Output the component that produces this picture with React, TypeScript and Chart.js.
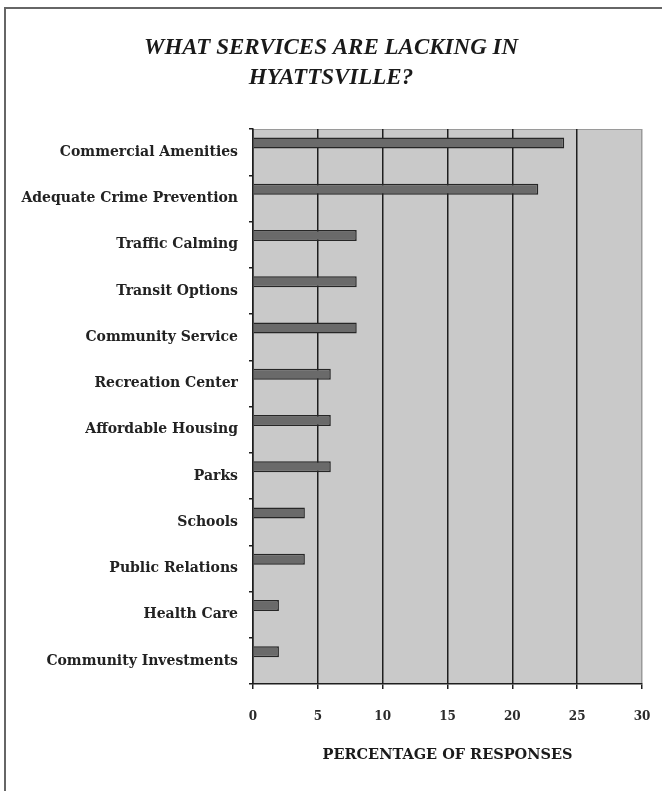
import React, { useEffect, useRef } from 'react';
import { Chart, registerables } from 'chart.js';

Chart.register(...registerables);

const TITLE_LINES = ['WHAT SERVICES ARE LACKING IN', 'HYATTSVILLE?'];
const CATEGORIES = [
  'Commercial Amenities',
  'Adequate Crime Prevention',
  'Traffic Calming',
  'Transit Options',
  'Community Service',
  'Recreation Center',
  'Affordable Housing',
  'Parks',
  'Schools',
  'Public Relations',
  'Health Care',
  'Community Investments',
];
const RESPONSES = [24, 22, 8, 8, 8, 6, 6, 6, 4, 4, 2, 2];
// Excel-style empty second series (reserves the lower half of each band)
const EMPTY_SERIES: (number | null)[] = [null, null, null, null, null, null, null, null, null, null, null, null];
const X_MIN = 0;
const X_MAX = 30;
const X_STEP = 5;
const X_TITLE = 'PERCENTAGE OF RESPONSES';

const plotBackground = {
  id: 'plotBackground',
  beforeDraw(chart: any) {
    const { ctx, chartArea } = chart;
    const { left, top, right, bottom } = chartArea;
    ctx.save();
    ctx.fillStyle = '#c9c9c9';
    ctx.fillRect(left, top, right - left, bottom - top);
    ctx.strokeStyle = '#9a9a9a';
    ctx.lineWidth = 1;
    ctx.beginPath();
    ctx.moveTo(left, top + 0.5);
    ctx.lineTo(right - 0.5, top + 0.5);
    ctx.lineTo(right - 0.5, bottom);
    ctx.stroke();
    ctx.restore();
  },
};

export default function App() {
  const canvasRef = useRef<HTMLCanvasElement | null>(null);

  useEffect(() => {
    if (!canvasRef.current) return;
    const barStyle = {
      backgroundColor: '#6a6a6a',
      borderColor: '#262626',
      borderWidth: 1.5,
      categoryPercentage: 0.79,
      barPercentage: 0.6,
    };
    const chart = new Chart(canvasRef.current, {
      type: 'bar',
      data: {
        labels: CATEGORIES,
        datasets: [
          { data: RESPONSES, ...barStyle },
          { data: EMPTY_SERIES, ...barStyle },
        ],
      },
      plugins: [plotBackground],
      options: {
        indexAxis: 'y',
        animation: false,
        responsive: false,
        devicePixelRatio: 1,
        layout: { padding: { left: 20, right: 20, top: 0, bottom: 0 } },
        plugins: {
          legend: { display: false },
          tooltip: { enabled: false },
          title: {
            display: true,
            text: TITLE_LINES,
            color: '#1a1a1a',
            font: {
              family: '"Liberation Serif", "Times New Roman", serif',
              size: 23,
              style: 'italic',
              weight: 'bold',
              lineHeight: 30 / 23,
            },
            padding: { top: 33, bottom: 36 },
          },
        },
        scales: {
          x: {
            min: X_MIN,
            max: X_MAX,
            ticks: {
              stepSize: X_STEP,
              color: '#2a2a2a',
              padding: 21,
              font: { family: '"DejaVu Serif", serif', size: 12, weight: 'bold' },
            },
            grid: {
              color: (ctx: any) => (ctx.tick && ctx.tick.value === X_MAX ? '#9a9a9a' : '#1e1e1e'),
              lineWidth: 1.5,
              drawTicks: true,
              tickLength: 5,
              tickColor: '#1e1e1e',
            },
            border: { display: true, color: '#1e1e1e', width: 1.5 },
            title: {
              display: true,
              text: X_TITLE,
              color: '#1a1a1a',
              font: { family: '"DejaVu Serif", serif', size: 14.5, weight: 'bold' },
              padding: { top: 27, bottom: 27 },
            },
            afterFit: (scale: any) => {
              scale.height = 107;
              scale.paddingLeft = 0;
              scale.paddingRight = 0;
            },
          },
          y: {
            ticks: {
              color: '#222',
              padding: 11,
              font: { family: '"DejaVu Serif", serif', size: 14, weight: 'bold' },
            },
            grid: {
              drawOnChartArea: false,
              drawTicks: true,
              offset: true,
              tickLength: 4,
              color: '#1e1e1e',
              lineWidth: 1.5,
            },
            border: { display: true, color: '#1e1e1e', width: 1.5 },
            afterFit: (scale: any) => {
              scale.width = 233;
              scale.paddingTop = 0;
              scale.paddingBottom = 0;
            },
          },
        },
      },
    } as any);
    return () => chart.destroy();
  }, []);

  return (
    <div
      style={{
        position: 'fixed',
        left: 0,
        top: 0,
        width: 662,
        height: 791,
        overflow: 'hidden',
        background: '#ffffff',
      }}
    >
      <div
        style={{
          position: 'absolute',
          left: 4,
          top: 7,
          width: 700,
          height: 820,
          borderTop: '2px solid #666',
          borderLeft: '2px solid #666',
        }}
      />
      <canvas
        ref={canvasRef}
        width={662}
        height={791}
        style={{ position: 'absolute', left: 0, top: 0, display: 'block' }}
      />
    </div>
  );
}
